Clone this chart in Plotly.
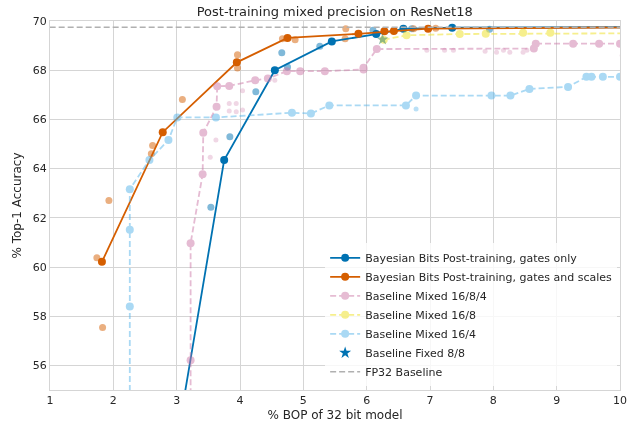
import plotly.graph_objects as go

# ---------------- data ----------------
gates_x = [3.00, 3.75, 4.55, 5.45, 6.15, 6.58, 7.35, 12.0]
gates_y = [52.9, 64.35, 68.00, 69.17, 69.47, 69.68, 69.73, 69.76]

scales_x = [1.82, 2.78, 3.95, 4.75, 5.87, 6.28, 6.43, 6.97, 12.0]
scales_y = [60.21, 65.48, 68.32, 69.31, 69.48, 69.58, 69.59, 69.69, 69.77]

gates_sc_x = [3.54, 3.84, 4.25, 4.66, 4.75, 5.26, 6.10, 6.71, 7.94]
gates_sc_y = [62.43, 65.29, 67.12, 68.71, 68.13, 68.97, 69.62, 69.69, 69.66]

scales_sc_x = [1.93, 1.74, 1.83, 2.62, 2.60, 3.09, 3.96, 3.96, 4.67, 4.87, 5.66, 5.67, 6.74, 7.09]
scales_sc_y = [62.70, 60.38, 57.54, 64.94, 64.60, 66.81, 68.63, 68.09, 69.28, 69.24, 69.28, 69.69, 69.69, 69.71]

m1684_x = [3.22, 3.22, 3.22, 3.41, 3.42, 3.63, 3.64, 3.83, 4.24, 4.44, 4.74, 4.95, 5.34,
           5.95, 5.95, 6.16, 8.64, 8.67, 9.26, 9.67, 10.0, 10.06]
m1684_y = [53.0, 56.21, 60.97, 63.77, 65.46, 66.51, 67.35, 67.36, 67.59, 67.66, 67.96, 67.96, 67.96,
           68.03, 68.10, 68.86, 68.88, 69.08, 69.08, 69.08, 69.08, 68.60]

m1684_sc_x = [4.04, 3.94, 3.83, 3.83, 3.94, 4.04, 3.62, 3.53, 4.55,
              6.95, 7.23, 7.37, 7.87, 8.05, 8.16, 8.26, 8.47, 8.53]
m1684_sc_y = [67.16, 66.65, 66.65, 66.34, 66.31, 66.38, 65.16, 64.46, 67.59,
              68.81, 68.81, 68.81, 68.77, 68.73, 68.81, 68.73, 68.73, 68.81]

m168_x = [6.27, 6.63, 7.47, 7.88, 8.47, 8.90, 12.0]
m168_y = [69.24, 69.42, 69.47, 69.48, 69.52, 69.52, 69.52]

m164_x = [2.26, 2.26, 2.26, 2.26, 2.57, 2.87, 3.01, 3.62, 4.82, 5.12, 5.41, 6.62, 6.78,
          7.97, 8.27, 8.57, 9.18, 9.47, 9.55, 9.73, 10.0]
m164_y = [53.5, 58.39, 61.51, 63.16, 64.35, 65.16, 66.08, 66.08, 66.27, 66.24, 66.57, 66.57, 66.97,
          66.97, 66.97, 67.24, 67.32, 67.73, 67.73, 67.73, 67.73]

m164_sc_x = [6.78]
m164_sc_y = [66.42]

fixed88_x = [6.25]
fixed88_y = [69.25]

fp32_acc = 69.75

x_ticks = [1, 2, 3, 4, 5, 6, 7, 8, 9, 10]
y_ticks = [56, 58, 60, 62, 64, 66, 68, 70]
x_range = [1, 10]
y_range = [55, 70]

# ---------------- colours ----------------
BLUE = "#0072B2"
ORANGE = "#D55E00"
PINK = "#CC79A7"
YELLOW = "#F0E442"
LBLUE = "#56B4E9"
DASH = "6px,3px"

fig = go.Figure()

# background scatters (no legend)
fig.add_trace(go.Scatter(x=m1684_sc_x, y=m1684_sc_y, mode="markers", showlegend=False,
                         marker=dict(color=PINK, size=5, line=dict(width=0)), opacity=0.3))
fig.add_trace(go.Scatter(x=m164_sc_x, y=m164_sc_y, mode="markers", showlegend=False,
                         marker=dict(color=LBLUE, size=5, line=dict(width=0)), opacity=0.4))
fig.add_trace(go.Scatter(x=gates_sc_x, y=gates_sc_y, mode="markers", showlegend=False,
                         marker=dict(color=BLUE, size=7, line=dict(width=0)), opacity=0.5))
fig.add_trace(go.Scatter(x=scales_sc_x, y=scales_sc_y, mode="markers", showlegend=False,
                         marker=dict(color=ORANGE, size=7, line=dict(width=0)), opacity=0.5))

# legend traces
fig.add_trace(go.Scatter(x=gates_x, y=gates_y, mode="lines+markers",
                         name="Bayesian Bits Post-training, gates only",
                         line=dict(color=BLUE, width=1.8),
                         marker=dict(color=BLUE, size=8, line=dict(width=0))))
fig.add_trace(go.Scatter(x=scales_x, y=scales_y, mode="lines+markers",
                         name="Bayesian Bits Post-training, gates and scales",
                         line=dict(color=ORANGE, width=1.8),
                         marker=dict(color=ORANGE, size=8, line=dict(width=0))))
fig.add_trace(go.Scatter(x=m1684_x, y=m1684_y, mode="lines+markers",
                         name="Baseline Mixed 16/8/4", opacity=0.5,
                         line=dict(color=PINK, width=1.8, dash=DASH),
                         marker=dict(color=PINK, size=8, line=dict(width=0))))
fig.add_trace(go.Scatter(x=m168_x, y=m168_y, mode="lines+markers",
                         name="Baseline Mixed 16/8", opacity=0.6,
                         line=dict(color=YELLOW, width=1.8, dash=DASH),
                         marker=dict(color=YELLOW, size=8, line=dict(width=0))))
fig.add_trace(go.Scatter(x=m164_x, y=m164_y, mode="lines+markers",
                         name="Baseline Mixed 16/4", opacity=0.5,
                         line=dict(color=LBLUE, width=1.8, dash=DASH),
                         marker=dict(color=LBLUE, size=8, line=dict(width=0))))
fig.add_trace(go.Scatter(x=fixed88_x, y=fixed88_y, mode="markers", showlegend=False,
                         opacity=0.55,
                         marker=dict(color="#3d8a6e", symbol="star", size=9, line=dict(width=0))))
fig.add_trace(go.Scatter(x=[None], y=[None], mode="markers", name="Baseline Fixed 8/8",
                         marker=dict(color=BLUE, symbol="star", size=9, line=dict(width=0))))
fig.add_trace(go.Scatter(x=[0, 11], y=[fp32_acc, fp32_acc], mode="lines", name="FP32 Baseline",
                         line=dict(color="#b0b0b0", width=1.5, dash=DASH)))

axis_common = dict(showgrid=True, gridcolor="#d5d5d5", gridwidth=1.2,
                   showline=True, linecolor="#d5d5d5", linewidth=1.2, mirror=True,
                   zeroline=False, ticks="", automargin=False,
                   tickfont=dict(size=11, color="#262626"))

fig.update_layout(
    width=640, height=426,
    margin=dict(l=50, r=20, t=21, b=36),
    paper_bgcolor="white", plot_bgcolor="white",
    font=dict(family="DejaVu Sans", color="#262626"),
    title=dict(text="Post-training mixed precision on ResNet18", x=0.523, xanchor="center",
               y=0.973, yanchor="middle", font=dict(size=13, color="#262626")),
    xaxis=dict(range=x_range, tickvals=x_ticks, ticktext=[str(v) for v in x_ticks],
               title=dict(text="% BOP of 32 bit model", font=dict(size=12), standoff=4),
               **axis_common),
    yaxis=dict(range=y_range, tickvals=y_ticks, ticktext=[str(v) for v in y_ticks],
               title=dict(text="% Top-1 Accuracy", font=dict(size=12), standoff=8),
               **axis_common),
    legend=dict(x=0.995, y=0.01, xanchor="right", yanchor="bottom",
                bgcolor="rgba(255,255,255,0.8)", borderwidth=0,
                font=dict(size=11, color="#262626"), traceorder="normal",
                itemwidth=30, tracegroupgap=0),
)

fig.write_html("out.html", config={"displayModeBar": False},
               post_script="document.body.style.margin='0';")
